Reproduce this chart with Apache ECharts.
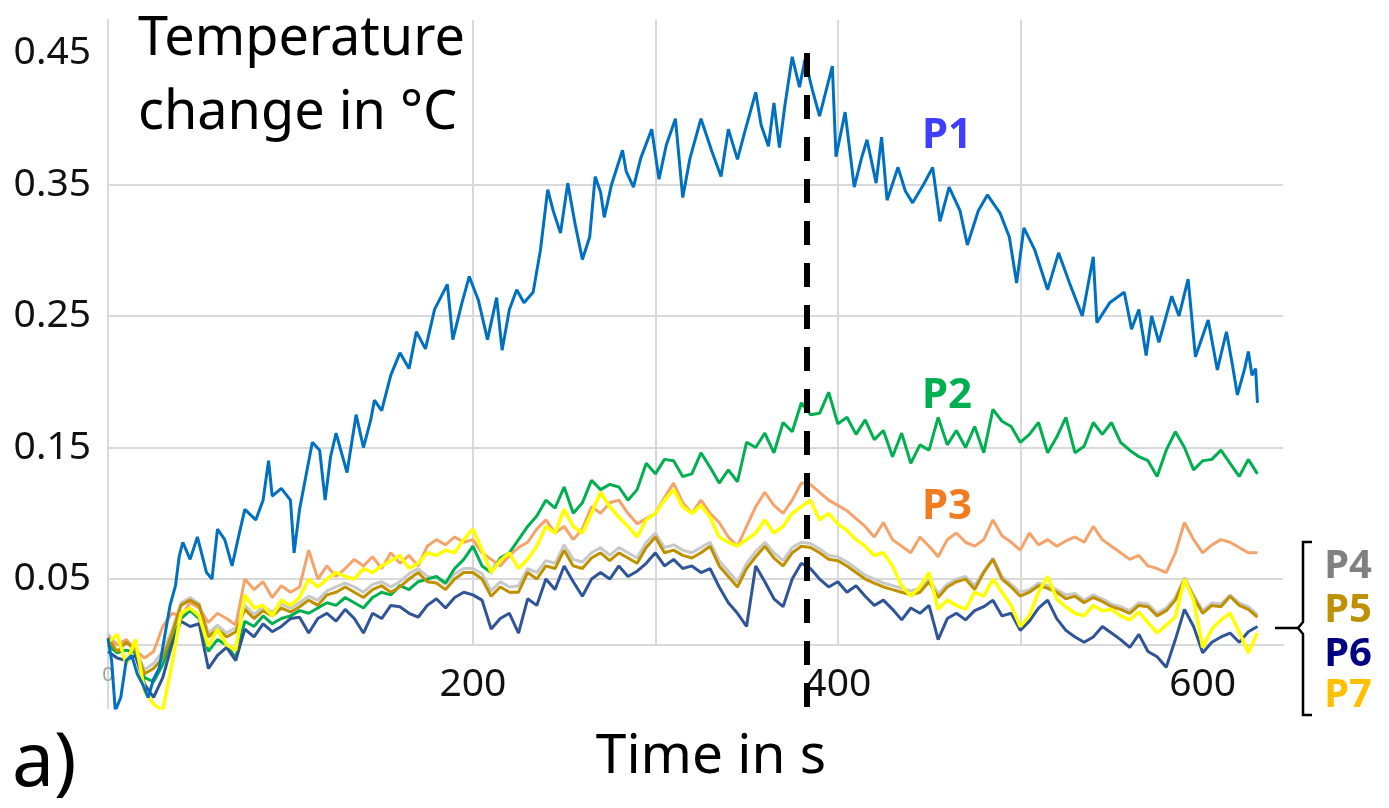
<!DOCTYPE html>
<html>
<head>
<meta charset="utf-8">
<title>Temperature change</title>
<script src="https://cdn.jsdelivr.net/npm/echarts@6/dist/echarts.min.js"></script>
<style>
  html, body { margin: 0; padding: 0; background: #fff; }
  #chart { width: 1389px; height: 808px; }
</style>
</head>
<body>
<div id="chart"></div>
<script>
// P1 as [time in s, change in °C]
const p1Readings = [
  [0,0.005],[2,-0.012],[4,-0.05],[7,-0.04],[10,-0.012],[13,-0.008],[16,-0.022],[19,-0.03],[22,-0.04],[25,-0.026],
  [28,-0.018],[31,0.006],[34,0.03],[37,0.045],[39,0.067],[41,0.078],[45,0.065],[49,0.082],[54,0.055],[57,0.05],
  [60,0.088],[64,0.08],[68,0.06],[72,0.085],[75,0.103],[81,0.095],[85,0.11],[88,0.14],[90,0.113],[95,0.119],
  [100,0.11],[102,0.07],[105,0.103],[108,0.125],[112,0.154],[116,0.148],[119,0.11],[122,0.143],[125,0.161],[131,0.131],
  [136,0.175],[140,0.15],[144,0.171],[146,0.186],[150,0.178],[155,0.205],[160,0.222],[165,0.21],[169,0.238],[174,0.225],
  [179,0.255],[186,0.274],[189,0.232],[194,0.26],[198,0.28],[203,0.262],[208,0.232],[213,0.264],[216,0.224],[220,0.255],
  [224,0.27],[228,0.26],[233,0.268],[237,0.3],[241,0.346],[244,0.33],[248,0.313],[252,0.351],[256,0.32],[260,0.293],
  [264,0.31],[267,0.356],[270,0.344],[272,0.325],[276,0.35],[282,0.376],[284,0.36],[288,0.348],[292,0.37],[298,0.392],
  [302,0.354],[306,0.38],[311,0.4],[315,0.34],[319,0.37],[325,0.4],[331,0.375],[336,0.356],[340,0.392],[345,0.369],
  [349,0.39],[355,0.42],[358,0.395],[362,0.379],[365,0.412],[368,0.378],[371,0.41],[375,0.447],[379,0.424],[382,0.445],
  [386,0.422],[390,0.402],[397,0.44],[399,0.371],[404,0.405],[409,0.348],[413,0.37],[416,0.384],[421,0.351],[424,0.386],
  [427,0.338],[433,0.363],[437,0.345],[441,0.336],[447,0.35],[452,0.363],[456,0.322],[461,0.348],[467,0.33],[471,0.304],
  [477,0.33],[482,0.342],[489,0.328],[494,0.31],[498,0.275],[502,0.317],[508,0.3],[515,0.27],[521,0.298],[527,0.275],
  [534,0.25],[540,0.295],[542,0.245],[549,0.26],[557,0.268],[561,0.24],[565,0.255],[569,0.22],[572,0.25],[576,0.23],
  [583,0.265],[587,0.25],[592,0.278],[596,0.219],[600,0.235],[603,0.247],[608,0.209],[613,0.238],[616,0.215],[619,0.19],
  [623,0.21],[625,0.223],[627,0.205],[629,0.21],[630,0.184]
];

// P2..P7 sampled every 5 s
const sampleTimes = [
  0,5,10,15,20,25,30,35,40,45,50,55,60,65,70,75,80,85,90,95,
  100,105,110,115,120,125,130,135,140,145,150,155,160,165,170,175,180,185,190,195,
  200,205,210,215,220,225,230,235,240,245,250,255,260,265,270,275,280,285,290,295,
  300,305,310,315,320,325,330,335,340,345,350,355,360,365,370,375,380,385,390,395,
  400,405,410,415,420,425,430,435,440,445,450,455,460,465,470,475,480,485,490,495,
  500,505,510,515,520,525,530,535,540,545,550,555,560,565,570,575,580,585,590,595,
  600,605,610,615,620,625,630
];

const p2Temp = [
  0.0,-0.006,-0.004,-0.006,-0.025,-0.028,-0.015,0.004,0.02,0.026,
  0.02,-0.005,0.004,0.0,-0.01,0.018,0.014,0.022,0.016,0.02,
  0.022,0.026,0.024,0.028,0.032,0.03,0.036,0.032,0.028,0.036,
  0.04,0.038,0.045,0.042,0.048,0.05,0.052,0.047,0.058,0.065,
  0.075,0.06,0.055,0.066,0.07,0.08,0.09,0.098,0.11,0.104,
  0.12,0.1,0.108,0.125,0.118,0.122,0.12,0.11,0.118,0.138,
  0.13,0.141,0.14,0.128,0.13,0.146,0.135,0.123,0.133,0.124,
  0.154,0.15,0.161,0.146,0.169,0.162,0.184,0.175,0.176,0.192,
  0.168,0.173,0.16,0.171,0.156,0.163,0.143,0.161,0.138,0.152,
  0.148,0.173,0.152,0.163,0.15,0.166,0.146,0.179,0.17,0.166,
  0.154,0.16,0.169,0.146,0.158,0.173,0.146,0.151,0.169,0.16,
  0.169,0.154,0.148,0.143,0.14,0.128,0.148,0.162,0.15,0.133,
  0.14,0.141,0.148,0.138,0.128,0.141,0.13
];

const p3Temp = [
  0.006,0.0,0.004,-0.004,-0.01,-0.005,0.014,0.024,0.022,0.032,
  0.028,0.017,0.024,0.02,0.015,0.05,0.042,0.048,0.036,0.045,
  0.04,0.044,0.072,0.05,0.06,0.052,0.058,0.065,0.06,0.067,
  0.058,0.07,0.062,0.068,0.06,0.075,0.08,0.076,0.082,0.078,
  0.08,0.07,0.065,0.06,0.068,0.074,0.078,0.088,0.095,0.085,
  0.09,0.08,0.088,0.105,0.1,0.108,0.11,0.1,0.092,0.096,
  0.1,0.112,0.123,0.108,0.1,0.11,0.1,0.093,0.082,0.075,
  0.09,0.105,0.116,0.106,0.1,0.11,0.123,0.122,0.116,0.11,
  0.106,0.102,0.096,0.09,0.082,0.093,0.08,0.075,0.07,0.082,
  0.075,0.067,0.08,0.085,0.078,0.075,0.08,0.095,0.083,0.078,
  0.072,0.085,0.076,0.08,0.075,0.079,0.082,0.078,0.09,0.08,
  0.075,0.07,0.065,0.068,0.06,0.058,0.055,0.07,0.093,0.08,
  0.07,0.076,0.08,0.078,0.074,0.07,0.07
];

const p4Temp = [
  0.008,0.0,0.003,-0.003,-0.019,-0.014,-0.005,0.011,0.032,0.036,
  0.031,0.009,0.015,0.009,0.013,0.03,0.023,0.029,0.025,0.031,
  0.028,0.032,0.037,0.034,0.041,0.044,0.047,0.044,0.04,0.046,
  0.048,0.044,0.048,0.054,0.058,0.052,0.051,0.046,0.054,0.058,
  0.058,0.054,0.041,0.048,0.044,0.045,0.058,0.055,0.064,0.062,
  0.076,0.065,0.063,0.07,0.074,0.068,0.074,0.07,0.066,0.078,
  0.085,0.074,0.076,0.072,0.07,0.074,0.078,0.064,0.056,0.048,
  0.062,0.071,0.078,0.07,0.064,0.074,0.078,0.077,0.073,0.068,
  0.067,0.063,0.058,0.053,0.05,0.047,0.045,0.043,0.041,0.043,
  0.05,0.039,0.046,0.05,0.052,0.045,0.056,0.066,0.052,0.046,
  0.04,0.042,0.047,0.045,0.042,0.038,0.039,0.034,0.038,0.035,
  0.031,0.029,0.026,0.032,0.031,0.024,0.028,0.036,0.051,0.038,
  0.026,0.032,0.031,0.038,0.032,0.029,0.023
];

const p5Temp = [
  0.005,-0.005,0.002,-0.004,-0.022,-0.018,-0.01,0.008,0.03,0.034,
  0.03,0.006,0.012,0.006,0.01,0.027,0.02,0.026,0.022,0.028,
  0.025,0.029,0.034,0.03,0.038,0.04,0.044,0.04,0.036,0.042,
  0.045,0.04,0.044,0.05,0.055,0.048,0.047,0.042,0.05,0.055,
  0.055,0.05,0.037,0.044,0.04,0.04,0.055,0.05,0.06,0.058,
  0.072,0.06,0.058,0.066,0.07,0.064,0.07,0.066,0.062,0.074,
  0.082,0.07,0.072,0.068,0.066,0.07,0.075,0.06,0.052,0.044,
  0.058,0.067,0.075,0.066,0.06,0.07,0.075,0.074,0.07,0.065,
  0.064,0.06,0.055,0.05,0.047,0.044,0.042,0.04,0.038,0.04,
  0.048,0.036,0.044,0.048,0.05,0.042,0.055,0.065,0.05,0.044,
  0.037,0.04,0.045,0.043,0.04,0.035,0.037,0.032,0.036,0.033,
  0.029,0.027,0.024,0.03,0.029,0.022,0.026,0.034,0.05,0.036,
  0.024,0.03,0.029,0.037,0.03,0.027,0.021
];

const p6Temp = [
  -0.005,-0.01,-0.012,-0.008,-0.03,-0.04,-0.025,0.0,0.018,0.014,
  0.016,-0.018,-0.008,-0.002,-0.012,0.012,0.006,0.016,0.01,0.014,
  0.02,0.021,0.009,0.02,0.024,0.018,0.027,0.02,0.009,0.024,
  0.02,0.03,0.029,0.024,0.021,0.03,0.035,0.028,0.036,0.04,
  0.038,0.034,0.012,0.02,0.024,0.009,0.035,0.03,0.05,0.042,
  0.06,0.048,0.037,0.05,0.055,0.05,0.06,0.052,0.056,0.062,
  0.07,0.06,0.065,0.058,0.06,0.055,0.058,0.044,0.032,0.024,
  0.014,0.06,0.048,0.035,0.029,0.05,0.062,0.058,0.05,0.044,
  0.048,0.04,0.045,0.037,0.03,0.034,0.027,0.019,0.028,0.024,
  0.03,0.004,0.02,0.024,0.019,0.026,0.029,0.034,0.022,0.024,
  0.011,0.018,0.028,0.034,0.02,0.011,0.006,0.002,0.006,0.014,
  0.009,0.004,-0.002,0.008,-0.005,-0.009,-0.017,0.004,0.027,0.014,
  -0.006,0.002,0.006,0.009,0.002,0.01,0.014
];

const p7Temp = [
  0.002,0.008,-0.015,0.004,-0.035,-0.045,-0.05,-0.015,0.024,0.028,
  0.022,-0.001,0.012,0.0,-0.004,0.038,0.028,0.03,0.022,0.034,
  0.03,0.036,0.05,0.044,0.05,0.055,0.052,0.05,0.058,0.055,
  0.06,0.064,0.068,0.058,0.062,0.07,0.068,0.072,0.07,0.08,
  0.088,0.072,0.055,0.064,0.07,0.058,0.065,0.075,0.09,0.085,
  0.103,0.09,0.085,0.1,0.116,0.105,0.097,0.09,0.082,0.095,
  0.1,0.11,0.118,0.105,0.1,0.106,0.097,0.082,0.078,0.075,
  0.08,0.085,0.095,0.085,0.09,0.1,0.105,0.11,0.095,0.1,
  0.092,0.087,0.08,0.075,0.068,0.07,0.06,0.045,0.037,0.044,
  0.055,0.027,0.034,0.03,0.027,0.04,0.037,0.05,0.04,0.03,
  0.014,0.022,0.04,0.052,0.035,0.029,0.024,0.022,0.03,0.026,
  0.027,0.022,0.019,0.025,0.017,0.009,0.015,0.021,0.05,0.034,
  -0.002,0.012,0.019,0.024,0.01,-0.006,0.009
];

const peakTime = 383;            // dashed marker
const yTickValues = [0.05, 0.15, 0.25, 0.35, 0.45];
const yGridValues = [0, 0.05, 0.15, 0.25, 0.35, 0.45];
const xTickValues = [0, 200, 400, 600];
const xGridValues = [100, 200, 300, 400, 500, 600];

const FONT = '"Noto Sans", "Open Sans", sans-serif';
const GRID_COLOR = '#d9d9d9';

function pairUp(times, vals) {
  return times.map((t, i) => [t, vals[i]]);
}

function lineSeries(name, data, color, width) {
  return {
    name: name,
    type: 'line',
    xAxisIndex: 0,
    yAxisIndex: 0,
    data: data,
    symbol: 'none',
    showSymbol: false,
    silent: true,
    lineStyle: { color: color, width: width },
    animation: false
  };
}

let myChart = echarts.init(document.getElementById('chart'), null, { renderer: 'canvas' });

let p1Series = lineSeries('P1', p1Readings, '#0070c0', 3);
p1Series.markLine = {
  silent: true,
  symbol: ['none', 'none'],
  label: { show: false },
  lineStyle: { color: '#000', width: 6, type: [24, 18] },
  data: [[{ coord: [peakTime, 0.45] }, { coord: [peakTime, -0.048] }]]
};

myChart.setOption({
  backgroundColor: '#fff',
  animation: false,
  grid: [
    { left: 108, right: 106, top: 20, bottom: 100 },
    // upper part only: its bottom edge is the zero line, so vertical grid lines and x labels sit there
    { left: 108, right: 106, top: 20, bottom: 163 }
  ],
  xAxis: [
    {
      type: 'value', gridIndex: 0, min: 0, max: 644,
      axisLine: { show: false },
      axisTick: { show: false },
      splitLine: { show: false },
      axisLabel: { show: false }
    },
    {
      type: 'value', gridIndex: 1, min: 0, max: 644,
      axisLine: { show: true, onZero: false, lineStyle: { color: GRID_COLOR, width: 2 } },
      axisTick: { show: false, customValues: xGridValues },
      splitLine: { show: true, showMinLine: false, showMaxLine: false, lineStyle: { color: GRID_COLOR, width: 2 } },
      axisLabel: {
        customValues: xTickValues,
        margin: 20,
        fontFamily: FONT, fontSize: 39, color: '#111',
        formatter: function (v) { return v === 0 ? '{z|0}' : String(v); },
        rich: { z: { fontFamily: FONT, fontSize: 20, color: '#a0a0a0' } }
      }
    }
  ],
  yAxis: [
    {
      type: 'value', gridIndex: 0, min: -0.048, max: 0.475,
      axisLine: { show: true, lineStyle: { color: GRID_COLOR, width: 2 } },
      axisTick: { show: false, customValues: yGridValues },
      splitLine: { show: true, showMinLine: false, showMaxLine: false, lineStyle: { color: GRID_COLOR, width: 2 } },
      axisLabel: {
        customValues: yTickValues,
        margin: 17,
        fontFamily: FONT, fontSize: 39, color: '#111',
        formatter: function (v) { return v.toFixed(2); }
      }
    },
    { type: 'value', gridIndex: 1, min: 0, max: 1, show: false, splitLine: { show: false } }
  ],
  series: [
    lineSeries('P4', pairUp(sampleTimes, p4Temp), '#c8c8c8', 3),
    lineSeries('P2', pairUp(sampleTimes, p2Temp), '#00b050', 3),
    lineSeries('P3', pairUp(sampleTimes, p3Temp), '#f4a46a', 3),
    lineSeries('P6', pairUp(sampleTimes, p6Temp), '#2f5597', 3),
    lineSeries('P5', pairUp(sampleTimes, p5Temp), '#bf9000', 3),
    lineSeries('P7', pairUp(sampleTimes, p7Temp), '#ffff00', 3.5),
    p1Series
  ],
  graphic: [
    { type: 'text', x: 138, y: 40, style: { text: 'Temperature', fontFamily: FONT, fontSize: 54, fill: '#000', textAlign: 'left', textVerticalAlign: 'middle' } },
    { type: 'text', x: 138, y: 114, style: { text: 'change in °C', fontFamily: FONT, fontSize: 54, fill: '#000', textAlign: 'left', textVerticalAlign: 'middle' } },
    { type: 'text', x: 711, y: 757, style: { text: 'Time in s', fontFamily: FONT, fontSize: 55, fill: '#000', textAlign: 'center', textVerticalAlign: 'middle' } },
    { type: 'text', x: 12, y: 765, style: { text: 'a)', fontFamily: FONT, fontSize: 75, fill: '#000', textAlign: 'left', textVerticalAlign: 'middle' } },
    { type: 'text', x: 947, y: 136, style: { text: 'P1', fontFamily: FONT, fontSize: 42, fontWeight: 'bold', fill: '#3f3fff', textAlign: 'center', textVerticalAlign: 'middle' } },
    { type: 'text', x: 947, y: 396, style: { text: 'P2', fontFamily: FONT, fontSize: 42, fontWeight: 'bold', fill: '#00b050', textAlign: 'center', textVerticalAlign: 'middle' } },
    { type: 'text', x: 947, y: 507, style: { text: 'P3', fontFamily: FONT, fontSize: 42, fontWeight: 'bold', fill: '#f47c20', textAlign: 'center', textVerticalAlign: 'middle' } },
    { type: 'text', x: 1348, y: 567, style: { text: 'P4', fontFamily: FONT, fontSize: 40, fontWeight: 'bold', fill: '#808080', textAlign: 'center', textVerticalAlign: 'middle' } },
    { type: 'text', x: 1348, y: 611, style: { text: 'P5', fontFamily: FONT, fontSize: 40, fontWeight: 'bold', fill: '#bf9000', textAlign: 'center', textVerticalAlign: 'middle' } },
    { type: 'text', x: 1348, y: 655, style: { text: 'P6', fontFamily: FONT, fontSize: 40, fontWeight: 'bold', fill: '#000080', textAlign: 'center', textVerticalAlign: 'middle' } },
    { type: 'text', x: 1348, y: 696, style: { text: 'P7', fontFamily: FONT, fontSize: 40, fontWeight: 'bold', fill: '#ffc000', textAlign: 'center', textVerticalAlign: 'middle' } },
    // bracket grouping P4..P7
    { type: 'polyline', shape: { points: [[1312, 542], [1303, 542], [1303, 622], [1298, 628], [1303, 634], [1303, 715], [1312, 715]] }, style: { stroke: '#000', lineWidth: 2.5, fill: null } },
    { type: 'line', shape: { x1: 1275, y1: 628, x2: 1298, y2: 628 }, style: { stroke: '#000', lineWidth: 2.5 } }
  ]
});
</script>
</body>
</html>
